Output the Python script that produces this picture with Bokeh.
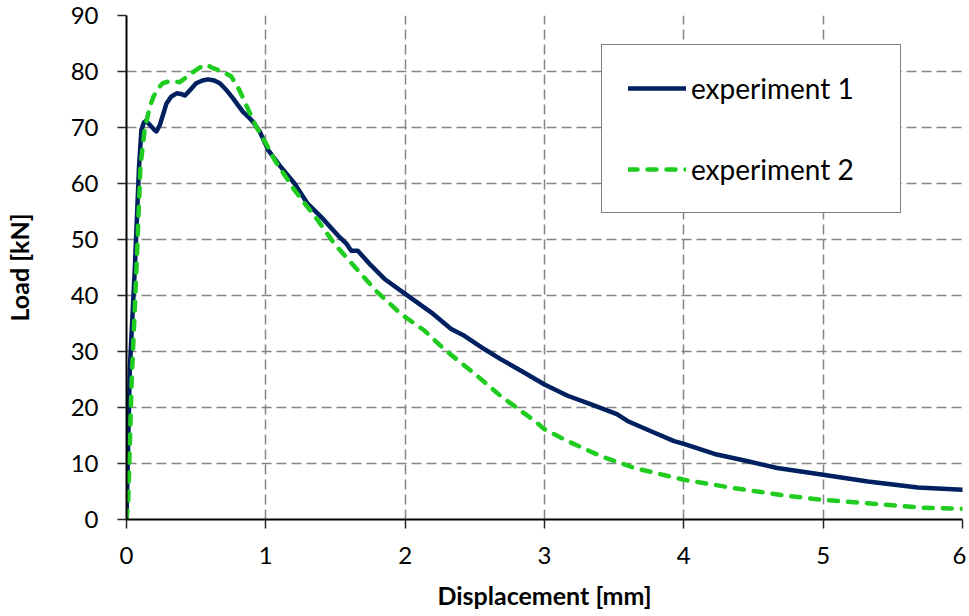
from bokeh.plotting import figure
from bokeh.models import Range1d, FixedTicker
from bokeh.embed import file_html
from bokeh.resources import INLINE

# ---- data ----
exp1_x = [0, 0.024, 0.06, 0.09, 0.107, 0.125, 0.14, 0.17, 0.2, 0.215, 0.24, 0.265, 0.287, 0.32,
          0.36, 0.39, 0.42, 0.46, 0.5, 0.545, 0.585, 0.63, 0.67, 0.72, 0.765, 0.8, 0.836, 0.87,
          0.908, 0.956, 1.016, 1.1, 1.206, 1.3, 1.398, 1.46, 1.518, 1.58, 1.613, 1.66, 1.75,
          1.85, 2.0, 2.186, 2.33, 2.425, 2.57, 2.688, 2.85, 3.0, 3.166, 3.33, 3.52, 3.595, 3.76,
          3.93, 4.0, 4.22, 4.46, 4.67, 5.0, 5.32, 5.68, 6.0]
exp1_y = [0, 27, 45, 63, 69.6, 70.9, 71.2, 70.4, 69.6, 69.3, 70.5, 72.5, 74.3, 75.5,
          76.1, 76.0, 75.7, 76.8, 77.9, 78.4, 78.6, 78.4, 77.9, 76.6, 75.2, 74.0, 72.8, 72.0,
          71.0, 69.3, 66.0, 63.2, 60.0, 56.4, 54.0, 52.3, 50.7, 49.2, 48.0, 48.0, 45.5,
          43.0, 40.3, 37.0, 34.0, 32.8, 30.4, 28.6, 26.3, 24.1, 22.1, 20.6, 18.8, 17.6, 15.8,
          14.0, 13.5, 11.7, 10.4, 9.2, 8.0, 6.8, 5.7, 5.3]

exp2_x = [0, 0.012, 0.036, 0.072, 0.1, 0.13, 0.143, 0.167, 0.195, 0.227, 0.26, 0.31, 0.345,
          0.382, 0.42, 0.466, 0.52, 0.561, 0.59, 0.62, 0.69, 0.753, 0.81, 0.87, 0.93, 1.0,
          1.063, 1.206, 1.374, 1.493, 1.66, 1.8, 1.97, 2.14, 2.28, 2.5, 2.688, 2.93, 3.0,
          3.166, 3.405, 3.645, 4.0, 4.36, 4.72, 5.0, 5.32, 5.68, 6.0]
exp2_y = [0, 3, 24, 45, 63, 69.6, 71.0, 73.7, 75.6, 77.0, 77.9, 78.3, 78.2,
          78.1, 78.8, 79.7, 80.6, 81.2, 81.0, 80.6, 80.0, 79.1, 76.7, 73.4, 70.2, 67.2,
          64.2, 58.8, 53.4, 49.2, 44.5, 40.6, 36.7, 33.7, 30.4, 26.0, 22.0, 17.6, 16.1,
          14.0, 11.3, 9.2, 7.1, 5.6, 4.3, 3.5, 2.9, 2.15, 1.9]

x_ticks = [0, 1, 2, 3, 4, 5, 6]
y_ticks = [0, 10, 20, 30, 40, 50, 60, 70, 80, 90]

FONT = "Lato"

p = figure(width=966, height=612, output_backend="svg", toolbar_location=None,
           x_range=Range1d(0, 6), y_range=Range1d(0, 90),
           min_border_left=125, min_border_right=4, min_border_top=15, min_border_bottom=10)
p.outline_line_color = None
p.background_fill_color = "white"

p.line(exp1_x, exp1_y, line_color="#002060", line_width=4.5, line_join="round",
       line_cap="round", legend_label="experiment 1")
p.line(exp2_x, exp2_y, line_color="#1fcc1f", line_width=4.5, line_dash="9 10",
       line_cap="round", line_join="round", legend_label="experiment 2")

for ax in (p.xaxis[0], p.yaxis[0]):
    ax.axis_line_color = "black"
    ax.axis_line_width = 2
    ax.major_tick_line_color = "#262626"
    ax.major_tick_line_width = 1.5
    ax.major_tick_out = 9
    ax.major_tick_in = 0
    ax.minor_tick_line_color = None
    ax.major_label_text_font = FONT
    ax.major_label_text_font_size = "24px"
    ax.major_label_text_color = "black"
    ax.axis_label_text_font = FONT
    ax.axis_label_text_font_size = "25px"
    ax.axis_label_text_font_style = "bold"
    ax.axis_label_text_color = "black"

p.xaxis.ticker = FixedTicker(ticks=x_ticks)
p.yaxis.ticker = FixedTicker(ticks=y_ticks)
p.xaxis.axis_label = "Displacement [mm]"
p.yaxis.axis_label = "Load [kN]"
p.xaxis.major_label_standoff = 18
p.xaxis.axis_label_standoff = 13
p.yaxis.major_label_standoff = 19
p.yaxis.axis_label_standoff = 34

for g, t in ((p.xgrid[0], x_ticks), (p.ygrid[0], y_ticks)):
    g.ticker = FixedTicker(ticks=t)
    g.grid_line_color = "#858585"
    g.grid_line_width = 1.5
    g.grid_line_dash = "10 5"

lg = p.legend[0]
lg.location = (475, 306)
lg.border_line_color = "black"
lg.border_line_width = 1.5
lg.background_fill_color = "white"
lg.background_fill_alpha = 1
lg.padding = 26
lg.spacing = 47
lg.glyph_width = 58
lg.glyph_height = 14
lg.label_height = 14
lg.label_width = 183
lg.label_standoff = 5
lg.label_text_font = FONT
lg.label_text_font_size = "28px"
lg.label_text_color = "black"
lg.margin = 0

open("out.html", "w").write(file_html(p, INLINE))
